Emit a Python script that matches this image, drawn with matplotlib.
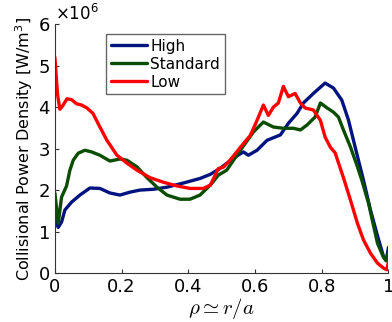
import numpy as np
import matplotlib
matplotlib.use("Agg")
import matplotlib.pyplot as plt
from matplotlib.ticker import ScalarFormatter

# values, power density in units of 1e6 W/m^3
rho_high = [0.0, 0.01, 0.02, 0.03, 0.05, 0.075, 0.105, 0.135, 0.165, 0.195, 0.225, 0.255,
            0.295, 0.336, 0.385, 0.435, 0.466, 0.495, 0.535, 0.565, 0.58, 0.606, 0.636,
            0.676, 0.70, 0.726, 0.745, 0.775, 0.81, 0.835, 0.86, 0.88, 0.90, 0.925, 0.946,
            0.967, 0.985, 0.993, 1.0]
p_high = [1.32, 1.1, 1.23, 1.52, 1.71, 1.88, 2.05, 2.04, 1.93, 1.88, 1.95, 2.0,
          2.02, 2.07, 2.17, 2.28, 2.38, 2.52, 2.77, 2.92, 2.84, 2.96, 3.2,
          3.33, 3.61, 3.85, 4.1, 4.33, 4.58, 4.46, 4.17, 3.69, 3.04, 2.24, 1.52,
          0.9, 0.4, 0.3, 0.62]

rho_std = [0.0, 0.01, 0.02, 0.035, 0.045, 0.055, 0.07, 0.09, 0.11, 0.135, 0.165, 0.195,
           0.216, 0.246, 0.276, 0.306, 0.336, 0.375, 0.405, 0.435, 0.466, 0.49, 0.515,
           0.556, 0.595, 0.625, 0.655, 0.685, 0.715, 0.736, 0.756, 0.78, 0.796, 0.816,
           0.835, 0.85, 0.865, 0.886, 0.907, 0.92, 0.94, 0.967, 0.985, 0.993, 1.0]
p_std = [1.93, 1.2, 1.83, 2.1, 2.48, 2.72, 2.89, 2.96, 2.92, 2.84, 2.7, 2.75,
         2.72, 2.56, 2.3, 2.07, 1.88, 1.78, 1.78, 1.88, 2.12, 2.36, 2.48,
         2.96, 3.4, 3.64, 3.52, 3.49, 3.49, 3.45, 3.57, 3.76, 4.1, 3.98,
         3.88, 3.76, 3.45, 3.04, 2.56, 2.24, 1.69, 0.72, 0.38, 0.3, 0.5]

rho_low = [0.0, 0.008, 0.015, 0.025, 0.036, 0.05, 0.065, 0.08, 0.096, 0.114, 0.135, 0.156,
           0.186, 0.216, 0.246, 0.285, 0.325, 0.366, 0.405, 0.445, 0.466, 0.48, 0.49,
           0.505, 0.525, 0.556, 0.586, 0.606, 0.625, 0.64, 0.655, 0.67, 0.685, 0.70,
           0.72, 0.736, 0.75, 0.775, 0.796, 0.81, 0.826, 0.84, 0.865, 0.886, 0.907,
           0.925, 0.946, 0.967, 0.985, 0.995, 1.0]
p_low = [5.2, 4.3, 3.95, 4.05, 4.2, 4.18, 4.08, 4.05, 3.98, 3.85, 3.52, 3.2,
         2.84, 2.65, 2.48, 2.3, 2.19, 2.1, 2.04, 2.04, 2.12, 2.35, 2.52,
         2.55, 2.72, 3.03, 3.32, 3.68, 4.05, 3.8, 4.0, 4.1, 4.5, 4.25,
         4.33, 4.1, 3.98, 3.93, 3.68, 3.28, 3.03, 2.9, 2.3, 1.76, 1.2,
         0.8, 0.48, 0.24, 0.12, 0.08, 0.27]

labels = ["High", "Standard", "Low"]
colors = ["#00137f", "#0b4d00", "#ff0000"]

fig = plt.figure(figsize=(3.92, 3.22), dpi=100)
ax = fig.add_axes([0.140, 0.152, 0.851, 0.773])

series = [(rho_high, p_high), (rho_std, p_std), (rho_low, p_low)]
for (x, y), lab, col in zip(series, labels, colors):
    ax.plot(x, np.array(y) * 1e6, color=col, lw=2.4, label=lab, solid_capstyle="round")

ax.set_xlim(0, 1)
ax.set_ylim(0, 6e6)
ax.set_xticks([0, 0.2, 0.4, 0.6, 0.8, 1])
ax.set_xticklabels(["0", "0.2", "0.4", "0.6", "0.8", "1"])
fmt = ScalarFormatter(useMathText=True)
fmt.set_powerlimits((0, 0))
ax.yaxis.set_major_formatter(fmt)
ax.yaxis.get_offset_text().set_fontsize(12)

for s in ["top", "right"]:
    ax.spines[s].set_visible(False)
for s in ["left", "bottom"]:
    ax.spines[s].set_color("#333333")
ax.tick_params(direction="in", length=3, labelsize=13, colors="#333333", labelcolor="black")

ax.set_xlabel(r"$\rho \simeq r/a$", fontsize=15, math_fontfamily="cm", labelpad=0)
ax.set_ylabel(r"Collisional Power Density [W/m$^3$]", fontsize=11.5, labelpad=2)

ax.legend(loc="upper left", bbox_to_anchor=(0.153, 0.96), borderaxespad=0,
          fancybox=False, edgecolor="#666666", fontsize=11, handlelength=2.4,
          handletextpad=0.2, borderpad=0.3, labelspacing=0.2, framealpha=1)

fig.savefig("out.png", dpi=100)
